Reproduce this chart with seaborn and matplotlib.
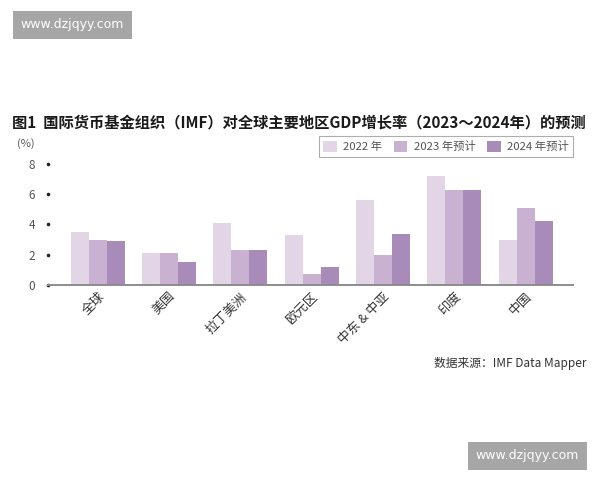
import matplotlib
matplotlib.use("Agg")
import matplotlib.pyplot as plt
import pandas as pd
import seaborn as sns

sns.set_theme(style="white")
plt.rcParams['font.family'] = ['Noto Sans CJK SC', 'DejaVu Sans']

# data
regions = ['全球', '美国', '拉丁美洲', '欧元区', '中东 & 中亚', '印度', '中国']
years = ['2022 年', '2023 年预计', '2024 年预计']
g2022 = [3.5, 2.1, 4.1, 3.3, 5.6, 7.2, 3.0]
g2023 = [3.0, 2.1, 2.3, 0.7, 2.0, 6.3, 5.1]
g2024 = [2.9, 1.5, 2.3, 1.2, 3.4, 6.3, 4.2]
colors = ['#e1d5e6', '#c9b2d1', '#a98bba']

df = pd.DataFrame({'region': regions * 3,
                   'year': [years[0]] * 7 + [years[1]] * 7 + [years[2]] * 7,
                   'growth': g2022 + g2023 + g2024})

fig = plt.figure(figsize=(6, 4.8), dpi=100)
ax = fig.add_axes([0.0795, 0.407, 0.875, 0.260])
sns.barplot(data=df, x='region', y='growth', hue='year', palette=colors,
            width=0.76, linewidth=0, saturation=1, ax=ax)

ax.set_xlim(-0.7, 6.66)
ax.set_ylim(0, 8.3)
ax.set_yticks([0, 2, 4, 6, 8])
ax.set_xlabel('')
ax.set_ylabel('')
sns.despine(ax=ax, left=True)
ax.spines['bottom'].set_color('#8c8c8c')
ax.spines['bottom'].set_linewidth(1.4)

ax.tick_params(axis='y', left=True, length=0, pad=9, labelsize=8.5, labelcolor='#555555')
ax.tick_params(axis='x', length=0, labelsize=9.3, labelcolor='#333333', pad=4)
for lab in ax.get_xticklabels():
    lab.set_rotation(45)
    lab.set_ha('right')
    lab.set_rotation_mode('anchor')

# dots instead of tick marks on the y axis
for t in ax.yaxis.get_major_ticks():
    t.tick1line.set_marker('o')
    t.tick1line.set_markersize(2.6)
    t.tick1line.set_markerfacecolor('#222222')
    t.tick1line.set_markeredgewidth(0)
    t.tick1line.set_visible(True)

leg = ax.legend(loc='upper right', bbox_to_anchor=(1.012, 1.235), ncol=3, frameon=True,
                fontsize=8.2, handlelength=1.2, handleheight=1.1, handletextpad=0.55,
                columnspacing=1.0, borderpad=0.4, fancybox=False)
leg.get_frame().set_edgecolor('#9a9a9a')
leg.get_frame().set_linewidth(0.8)
for txt in leg.get_texts():
    txt.set_color('#555555')

fig.text(0.02, 0.745, '图1  国际货币基金组织（IMF）对全球主要地区GDP增长率（2023～2024年）的预测',
         fontsize=11, fontweight='bold', color='#1a1a1a', va='center', ha='left')
fig.text(0.028, 0.70, '(%)', fontsize=8, color='#555555', va='center', ha='left')
fig.text(0.978, 0.242, '数据来源：IMF Data Mapper', fontsize=8.5, color='#333333',
         va='center', ha='right')

# watermarks
wm = dict(boxstyle='square,pad=0.6', facecolor='#a6a6a6', edgecolor='none')
fig.text(0.121, 0.948, 'www.dzjqyy.com', fontsize=9, color='white', ha='center',
         va='center', bbox=wm, family='DejaVu Sans')
fig.text(0.879, 0.05, 'www.dzjqyy.com', fontsize=9, color='white', ha='center',
         va='center', bbox=wm, family='DejaVu Sans')

fig.savefig('out.png', dpi=100)
